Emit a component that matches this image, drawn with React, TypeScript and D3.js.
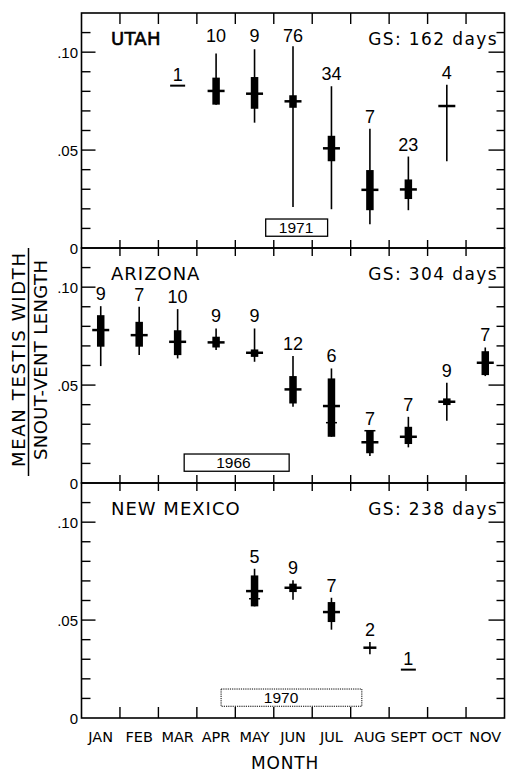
import React from "react";
import * as d3 from "d3";

// ---------- data ----------
const MONTHS = ["JAN", "FEB", "MAR", "APR", "MAY", "JUN", "JUL", "AUG", "SEPT", "OCT", "NOV"];
const Y_TICKS = [0.01, 0.02, 0.03, 0.04, 0.05, 0.06, 0.07, 0.08, 0.09, 0.1, 0.11];
const Y_LABELS = [
  { v: 0, t: "0" },
  { v: 0.05, t: ".05" },
  { v: 0.1, t: ".10" },
];

// Utah 1971
const UT_MONTHS = ["MAR", "APR", "MAY", "JUN", "JUL", "AUG", "SEPT", "OCT"];
const UT_N = [1, 10, 9, 76, 34, 7, 23, 4];
const UT_MEAN = [0.0829, 0.0802, 0.0788, 0.0749, 0.0509, 0.0297, 0.0299, 0.0725];
const UT_MIN = [null, 0.0732, 0.064, 0.021, 0.0198, 0.0121, 0.0193, 0.0443];
const UT_MAX = [null, 0.0993, 0.1015, 0.103, 0.0826, 0.0609, 0.0467, 0.0834];
const UT_BOXLO = [null, 0.0732, 0.0711, 0.0716, 0.0443, 0.0193, 0.025, null];
const UT_BOXHI = [null, 0.087, 0.0873, 0.078, 0.0573, 0.0398, 0.035, null];
const UT_EXTRA = [null, null, null, null, null, null, null, null];

// Arizona 1966
const AZ_MONTHS = ["JAN", "FEB", "MAR", "APR", "MAY", "JUN", "JUL", "AUG", "SEPT", "OCT", "NOV"];
const AZ_N = [9, 7, 10, 9, 9, 12, 6, 7, 7, 9, 7];
const AZ_MEAN = [0.0781, 0.0755, 0.0721, 0.0718, 0.0665, 0.0478, 0.0393, 0.0208, 0.0236, 0.0415, 0.0614];
const AZ_MIN = [0.0597, 0.0653, 0.0636, 0.0679, 0.0619, 0.0389, 0.0236, 0.0138, 0.0182, 0.0318, 0.0546];
const AZ_MAX = [0.0903, 0.09, 0.0888, 0.0789, 0.0789, 0.0648, 0.0585, 0.0267, 0.0338, 0.0512, 0.0692];
const AZ_BOXLO = [0.0696, 0.0696, 0.0653, 0.0692, 0.0644, 0.0406, 0.0236, 0.0152, 0.0199, 0.0398, 0.0551];
const AZ_BOXHI = [0.0857, 0.0823, 0.078, 0.0747, 0.0682, 0.0546, 0.0534, 0.0267, 0.0287, 0.0432, 0.0673];
const AZ_EXTRA = [null, null, null, null, null, null, 0.0308, 0.0267, null, null, null];

// New Mexico 1970
const NM_MONTHS = ["MAY", "JUN", "JUL", "AUG", "SEPT"];
const NM_N = [5, 9, 7, 2, 1];
const NM_MEAN = [0.0648, 0.0665, 0.0541, 0.0359, 0.0247];
const NM_MIN = [0.057, 0.0604, 0.0451, 0.0325, null];
const NM_MAX = [0.0762, 0.0703, 0.0614, 0.0388, null];
const NM_BOXLO = [0.057, 0.0643, 0.049, null, null];
const NM_BOXHI = [0.0728, 0.0686, 0.0592, null, null];
const NM_EXTRA = [0.0609, null, null, null, null];

const PANELS = [
  {
    name: "UTAH", gs: "GS: 162 days", heavy: true,
    months: UT_MONTHS, n: UT_N, mean: UT_MEAN, min: UT_MIN, max: UT_MAX,
    boxLo: UT_BOXLO, boxHi: UT_BOXHI, extra: UT_EXTRA,
    year: "1971", yearFrom: 4.79, yearTo: 6.4, yearText: 5.58, dotted: false,
  },
  {
    name: "ARIZONA", gs: "GS: 304 days", heavy: false,
    months: AZ_MONTHS, n: AZ_N, mean: AZ_MEAN, min: AZ_MIN, max: AZ_MAX,
    boxLo: AZ_BOXLO, boxHi: AZ_BOXHI, extra: AZ_EXTRA,
    year: "1966", yearFrom: 2.67, yearTo: 5.4, yearText: 3.95, dotted: false,
  },
  {
    name: "NEW MEXICO", gs: "GS: 238 days", heavy: false,
    months: NM_MONTHS, n: NM_N, mean: NM_MEAN, min: NM_MIN, max: NM_MAX,
    boxLo: NM_BOXLO, boxHi: NM_BOXHI, extra: NM_EXTRA,
    year: "1970", yearFrom: 3.63, yearTo: 7.29, yearText: 5.19, dotted: true,
  },
];

// ---------- layout ----------
const W = 506;
const H = 773;
const LEFT = 81.5;
const RIGHT = 504.5;
const PANEL_TOPS = [13, 248, 483];
const PANEL_H = 235;
const SANS = "'DejaVu Sans', sans-serif";
const NUMF = "'Liberation Sans', Arial, sans-serif";

export default function App() {
  const x = d3.scaleBand<string>().domain(MONTHS).range([LEFT, RIGHT]).padding(0);
  const xm = d3.scaleLinear().domain([0, MONTHS.length]).range([LEFT, RIGHT]);
  const bw = x.bandwidth();

  return (
    <svg
      width={W}
      height={H}
      viewBox={`0 0 ${W} ${H}`}
      style={{ position: "absolute", left: 0, top: 0, background: "#fff" }}
    >
      <rect x={0} y={0} width={W} height={H} fill="#fff" />
      {PANELS.map((p, pi) => {
        const top = PANEL_TOPS[pi];
        const y = d3.scaleLinear().domain([0, 0.12]).range([top + PANEL_H, top]);
        const topLen = pi === 0 ? 11 : 8;
        const botLen = pi === PANELS.length - 1 ? 11 : 8;
        return (
          <g key={p.name}>
            <rect x={LEFT} y={top} width={RIGHT - LEFT} height={PANEL_H} fill="none" stroke="#000" strokeWidth={1.6} />
            {/* month boundary ticks */}
            {MONTHS.slice(1).map((m) => {
              const xx = x(m)!;
              return (
                <g key={m}>
                  <line x1={xx} x2={xx} y1={top} y2={top + topLen} stroke="#000" strokeWidth={1.4} />
                  <line x1={xx} x2={xx} y1={top + PANEL_H} y2={top + PANEL_H - botLen} stroke="#000" strokeWidth={1.4} />
                </g>
              );
            })}
            {/* y ticks */}
            {Y_TICKS.map((v) => {
              const major = Math.abs(v - 0.05) < 1e-9 || Math.abs(v - 0.1) < 1e-9;
              const yy = y(v);
              return (
                <g key={v}>
                  <line x1={LEFT} x2={LEFT + (major ? 14 : 9)} y1={yy} y2={yy} stroke="#000" strokeWidth={1.4} />
                  <line x1={RIGHT} x2={RIGHT - (major ? 16 : 8)} y1={yy} y2={yy} stroke="#000" strokeWidth={1.4} />
                </g>
              );
            })}
            {Y_LABELS.map((l) => (
              <text key={l.t} x={78} y={y(l.v) + 5.5} textAnchor="end" fontFamily={NUMF} fontSize={15} fill="#000">
                {l.t}
              </text>
            ))}
            {/* titles */}
            <text
              x={111}
              y={top + 32}
              fontFamily={SANS}
              fontSize={18}
              letterSpacing={p.heavy ? 0.3 : 1}
              fill="#000"
              stroke={p.heavy ? "#000" : "none"}
              strokeWidth={p.heavy ? 0.6 : 0}
            >
              {p.name}
            </text>
            <text x={498} y={top + 32} textAnchor="end" fontFamily={SANS} fontSize={17} letterSpacing={1.4} fill="#000">
              {p.gs}
            </text>
            {/* year box */}
            <rect
              x={xm(p.yearFrom)}
              y={y(0.0148)}
              width={xm(p.yearTo) - xm(p.yearFrom)}
              height={y(0.006) - y(0.0148)}
              fill="none"
              stroke="#000"
              strokeWidth={p.dotted ? 1 : 1.3}
              strokeDasharray={p.dotted ? "1.2 1" : undefined}
            />
            <text x={xm(p.yearText)} y={(y(0.006) + y(0.0148)) / 2 + 5.5} textAnchor="middle" fontFamily={NUMF} fontSize={15.5} fill="#000">
              {p.year}
            </text>
            {/* data glyphs */}
            {p.months.map((m, i) => {
              const cx = x(m)! + bw / 2;
              const n = p.n[i];
              const mn = p.min[i];
              const mx = p.max[i];
              const bl = p.boxLo[i];
              const bh = p.boxHi[i];
              const ex = p.extra[i];
              const meanY = y(p.mean[i]);
              const single = n === 1;
              const half = single ? 7.5 : n === 2 ? 6.5 : 8.5;
              let labelY = mx == null ? meanY - 5 : y(mx) - 6;
              if (labelY < top + 37) labelY = y(0.105);
              return (
                <g key={m}>
                  {mn != null && mx != null && (
                    <line x1={cx} x2={cx} y1={y(mn)} y2={y(mx)} stroke="#000" strokeWidth={1.6} />
                  )}
                  {bl != null && bh != null && (
                    <rect x={cx - 3.75} y={y(bh)} width={7.5} height={y(bl) - y(bh)} fill="#000" />
                  )}
                  <line x1={cx - half} x2={cx + half} y1={meanY} y2={meanY} stroke="#000" strokeWidth={single ? 2 : 2.5} />
                  {ex != null && (
                    <line x1={cx - 5.5} x2={cx + 5.5} y1={y(ex)} y2={y(ex)} stroke="#000" strokeWidth={1.5} />
                  )}
                  <text x={cx} y={labelY} textAnchor="middle" fontFamily={NUMF} fontSize={18} fill="#000">
                    {n}
                  </text>
                </g>
              );
            })}
          </g>
        );
      })}
      {/* month labels */}
      {MONTHS.map((m) => (
        <text key={m} x={x(m)! + bw / 2} y={742} textAnchor="middle" fontFamily={SANS} fontSize={14.5} fill="#000">
          {m}
        </text>
      ))}
      <text x={285} y={769} textAnchor="middle" fontFamily={SANS} fontSize={17} letterSpacing={0.8} fill="#000">
        MONTH
      </text>
      {/* y-axis title as fraction */}
      <text
        transform="translate(25,360) rotate(-90)"
        textAnchor="middle"
        fontFamily={SANS}
        fontSize={18}
        textLength={214}
        lengthAdjust="spacing"
        fill="#000"
      >
        MEAN TESTIS WIDTH
      </text>
      <line x1={28.5} x2={28.5} y1={248} y2={476} stroke="#000" strokeWidth={1.5} />
      <text
        transform="translate(46.5,360) rotate(-90)"
        textAnchor="middle"
        fontFamily={SANS}
        fontSize={18}
        textLength={200}
        lengthAdjust="spacing"
        fill="#000"
      >
        SNOUT-VENT LENGTH
      </text>
    </svg>
  );
}
